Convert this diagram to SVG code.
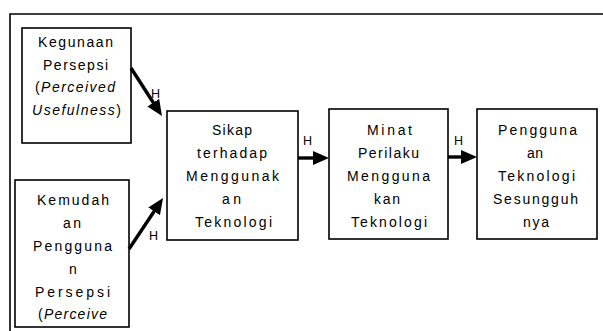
<svg xmlns="http://www.w3.org/2000/svg" width="603" height="331" viewBox="0 0 603 331">
<style>
.box{fill:#fff;stroke:#000;stroke-width:1.6}
.t{font-family:"Liberation Sans",Arial,sans-serif;font-size:14px;fill:#000}
.i{font-style:italic}
.h{font-family:"Liberation Sans",Arial,sans-serif;font-size:12.5px;fill:#000}
.c{stroke:#000;stroke-width:3.4;fill:none}
.frame{stroke:#000;stroke-width:1.6;fill:none}
</style>
<defs>
<marker id="ah" markerUnits="userSpaceOnUse" markerWidth="16" markerHeight="14" refX="10" refY="7" orient="auto" viewBox="0 0 16 14">
<path d="M0,0 L16,7 L0,14 z" fill="#000"/>
</marker>
</defs>
<rect width="603" height="331" fill="#fff"/>
<path class="frame" d="M10,331 L10,14 L603,14"/>
<g id="n1">
<rect class="box" x="22" y="28" width="109" height="115"/>
<text class="t" x="38" y="47" textLength="75" lengthAdjust="spacing">Kegunaan</text>
<text class="t" x="43" y="69.5" textLength="65" lengthAdjust="spacing">Persepsi</text>
<text class="t" x="35" y="92" textLength="80" lengthAdjust="spacing">(<tspan class="i">Perceived</tspan></text>
<text class="t" x="32" y="115" textLength="89" lengthAdjust="spacing"><tspan class="i">Usefulness</tspan>)</text>
</g>
<g id="n2">
<rect class="box" x="15" y="180" width="114" height="147"/>
<text class="t" x="37" y="205" textLength="72" lengthAdjust="spacing">Kemudah</text>
<text class="t" x="63" y="228" textLength="18" lengthAdjust="spacing">an</text>
<text class="t" x="33" y="251" textLength="79" lengthAdjust="spacing">Pengguna</text>
<text class="t" x="69" y="274">n</text>
<text class="t" x="35" y="297" textLength="75" lengthAdjust="spacing">Persepsi</text>
<text class="t" x="38" y="319" textLength="69" lengthAdjust="spacing">(<tspan class="i">Perceive</tspan></text>
</g>
<g id="n3">
<rect class="box" x="167" y="111" width="131" height="129"/>
<text class="t" x="212" y="135" textLength="40" lengthAdjust="spacing">Sikap</text>
<text class="t" x="197" y="158" textLength="70" lengthAdjust="spacing">terhadap</text>
<text class="t" x="186" y="181" textLength="93" lengthAdjust="spacing">Menggunak</text>
<text class="t" x="222" y="204" textLength="19" lengthAdjust="spacing">an</text>
<text class="t" x="195" y="227" textLength="77" lengthAdjust="spacing">Teknologi</text>
</g>
<g id="n4">
<rect class="box" x="329" y="109" width="119" height="130"/>
<text class="t" x="367" y="135" textLength="45" lengthAdjust="spacing">Minat</text>
<text class="t" x="358" y="158" textLength="61" lengthAdjust="spacing">Perilaku</text>
<text class="t" x="347" y="181" textLength="83" lengthAdjust="spacing">Mengguna</text>
<text class="t" x="374" y="204" textLength="26" lengthAdjust="spacing">kan</text>
<text class="t" x="351" y="227" textLength="76" lengthAdjust="spacing">Teknologi</text>
</g>
<g id="n5">
<rect class="box" x="477" y="109" width="120" height="130"/>
<text class="t" x="498" y="135" textLength="79" lengthAdjust="spacing">Pengguna</text>
<text class="t" x="527" y="158" textLength="16" lengthAdjust="spacing">an</text>
<text class="t" x="498" y="181" textLength="77" lengthAdjust="spacing">Teknologi</text>
<text class="t" x="493" y="204" textLength="85" lengthAdjust="spacing">Sesungguh</text>
<text class="t" x="523" y="227" textLength="26" lengthAdjust="spacing">nya</text>
</g>
<g id="connectors">
<line class="c" x1="131" y1="68" x2="158.7" y2="111" marker-end="url(#ah)"/>
<line class="c" x1="129" y1="249" x2="159.7" y2="203" marker-end="url(#ah)"/>
<line class="c" x1="298" y1="158" x2="323" y2="158" marker-end="url(#ah)"/>
<line class="c" x1="448" y1="157" x2="471" y2="157" marker-end="url(#ah)"/>
<text class="h" x="151" y="98">H</text>
<text class="h" x="149" y="240">H</text>
<text class="h" x="303" y="145">H</text>
<text class="h" x="454" y="145">H</text>
</g>
</svg>
